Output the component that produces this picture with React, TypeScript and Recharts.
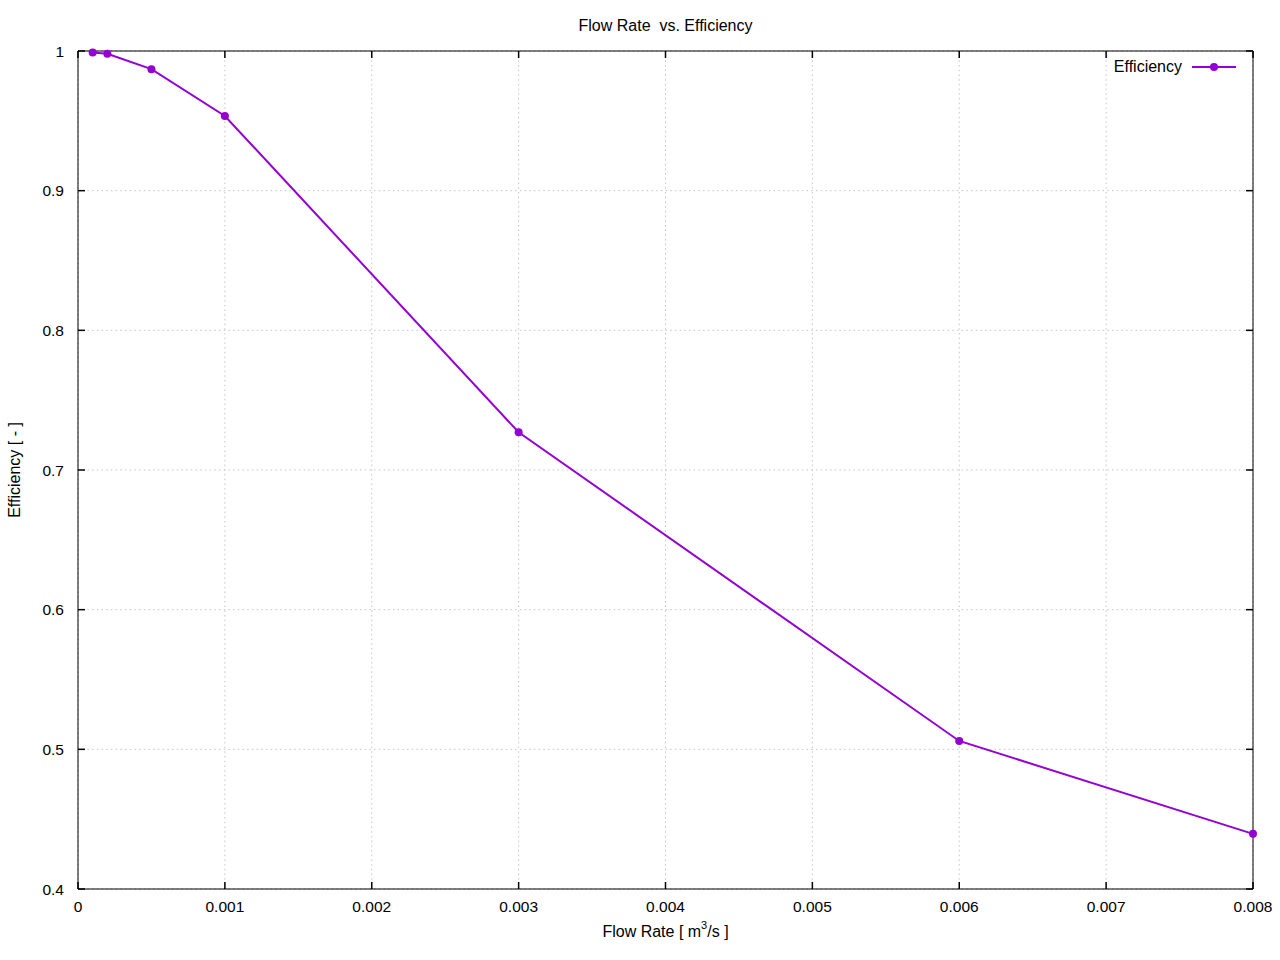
import React from 'react';
import { LineChart, Line, XAxis, YAxis, CartesianGrid } from 'recharts';

const flowRate = [0.0001, 0.0002, 0.0005, 0.001, 0.003, 0.006, 0.008];
const efficiency = [0.999, 0.998, 0.987, 0.9535, 0.727, 0.506, 0.4395];
const xTicks = [0, 0.001, 0.002, 0.003, 0.004, 0.005, 0.006, 0.007, 0.008];
const yTicks = [0.4, 0.5, 0.6, 0.7, 0.8, 0.9, 1];
const xTickLabels = ['0', '0.001', '0.002', '0.003', '0.004', '0.005', '0.006', '0.007', '0.008'];
const yTickLabels = ['0.4', '0.5', '0.6', '0.7', '0.8', '0.9', '1'];

const data = flowRate.map((q, i) => ({ q, eff: efficiency[i] }));

const FONT = '"Liberation Sans", Arial, sans-serif';
const COLOR = '#9400d3';
const TICK = 7;

const labelFor = (ticks: number[], labels: string[], v: number) => {
  const i = ticks.findIndex((t) => Math.abs(t - v) < 1e-9);
  return i >= 0 ? labels[i] : String(v);
};

const BottomTick = (props: any) => {
  const { x, y, payload } = props;
  return (
    <g>
      <path d={`M${x},${y}V${y - TICK}`} stroke="#000" strokeWidth={1.5} fill="none" />
      <text x={x} y={y + 23} textAnchor="middle" fontFamily={FONT} fontSize={15.5} fill="#000">
        {labelFor(xTicks, xTickLabels, payload.value)}
      </text>
    </g>
  );
};

const TopTick = ({ x, y }: any) => (
  <path d={`M${x},${y}V${y + TICK}`} stroke="#000" strokeWidth={1.5} fill="none" />
);

const LeftTick = ({ x, y, payload }: any) => (
  <g>
    <path d={`M${x},${y}H${x + TICK}`} stroke="#000" strokeWidth={1.5} fill="none" />
    <text x={x - 14} y={y + 5.5} textAnchor="end" fontFamily={FONT} fontSize={15.5} fill="#000">
      {labelFor(yTicks, yTickLabels, payload.value)}
    </text>
  </g>
);

const RightTick = ({ x, y }: any) => (
  <path d={`M${x},${y}H${x - TICK}`} stroke="#000" strokeWidth={1.5} fill="none" />
);

export default function App() {
  return (
    <div style={{ position: 'absolute', left: 0, top: 0, width: 1280, height: 960, background: '#fff' }}>
      <LineChart width={1280} height={960} data={data} margin={{ top: 41, right: 17, bottom: 41, left: 18 }}>
        <CartesianGrid stroke="#c4c4c4" strokeDasharray="1.5 3.2" />
        <XAxis
          dataKey="q"
          type="number"
          domain={[0, 0.008]}
          ticks={xTicks}
          height={30}
          tickSize={0}
          tickMargin={0}
          tick={BottomTick}
          axisLine={{ stroke: '#000' }}
          interval={0}
        />
        <XAxis
          xAxisId="top"
          dataKey="q"
          orientation="top"
          type="number"
          domain={[0, 0.008]}
          ticks={xTicks}
          height={10}
          tickSize={0}
          tickMargin={0}
          tick={TopTick}
          axisLine={{ stroke: '#000' }}
          interval={0}
        />
        <YAxis
          type="number"
          domain={[0.4, 1]}
          ticks={yTicks}
          width={60}
          tickSize={0}
          tickMargin={0}
          tick={LeftTick}
          axisLine={{ stroke: '#000' }}
          interval={0}
        />
        <YAxis
          yAxisId="right"
          orientation="right"
          type="number"
          domain={[0.4, 1]}
          ticks={yTicks}
          width={10}
          tickSize={0}
          tickMargin={0}
          tick={RightTick}
          axisLine={{ stroke: '#000' }}
          interval={0}
        />
        {/* invisible copy so the mirrored top/right axes get a scale */}
        <Line
          dataKey="eff"
          xAxisId="top"
          yAxisId="right"
          stroke="none"
          dot={false}
          activeDot={false}
          isAnimationActive={false}
        />
        <Line
          dataKey="eff"
          type="linear"
          stroke={COLOR}
          strokeWidth={2}
          dot={{ r: 4, fill: COLOR, stroke: COLOR, strokeWidth: 0 }}
          isAnimationActive={false}
        />
      </LineChart>
      <svg width={140} height={20} style={{ position: 'absolute', left: 1112, top: 57 }}>
        <text x={70} y={15} textAnchor="end" fontFamily={FONT} fontSize={16} fill="#000">
          Efficiency
        </text>
        <line x1={80} y1={10} x2={124} y2={10} stroke={COLOR} strokeWidth={2} />
        <circle cx={102} cy={10} r={4} fill={COLOR} />
      </svg>
      <div
        style={{
          position: 'absolute',
          left: 78,
          width: 1175,
          top: 17,
          textAlign: 'center',
          fontFamily: FONT,
          fontSize: 16,
          whiteSpace: 'pre',
        }}
      >
        {'Flow Rate  vs. Efficiency'}
      </div>
      <div
        style={{
          position: 'absolute',
          left: 78,
          width: 1175,
          top: 923,
          textAlign: 'center',
          fontFamily: FONT,
          fontSize: 16,
        }}
      >
        Flow Rate [ m<sup style={{ fontSize: 11, position: 'relative', top: -3, verticalAlign: 'top', lineHeight: 1 }}>3</sup>/s ]
      </div>
      <div
        style={{
          position: 'absolute',
          left: 15,
          top: 470,
          transform: 'translate(-50%, -50%) rotate(-90deg)',
          fontFamily: FONT,
          fontSize: 16,
          whiteSpace: 'nowrap',
        }}
      >
        Efficiency [ - ]
      </div>
    </div>
  );
}
